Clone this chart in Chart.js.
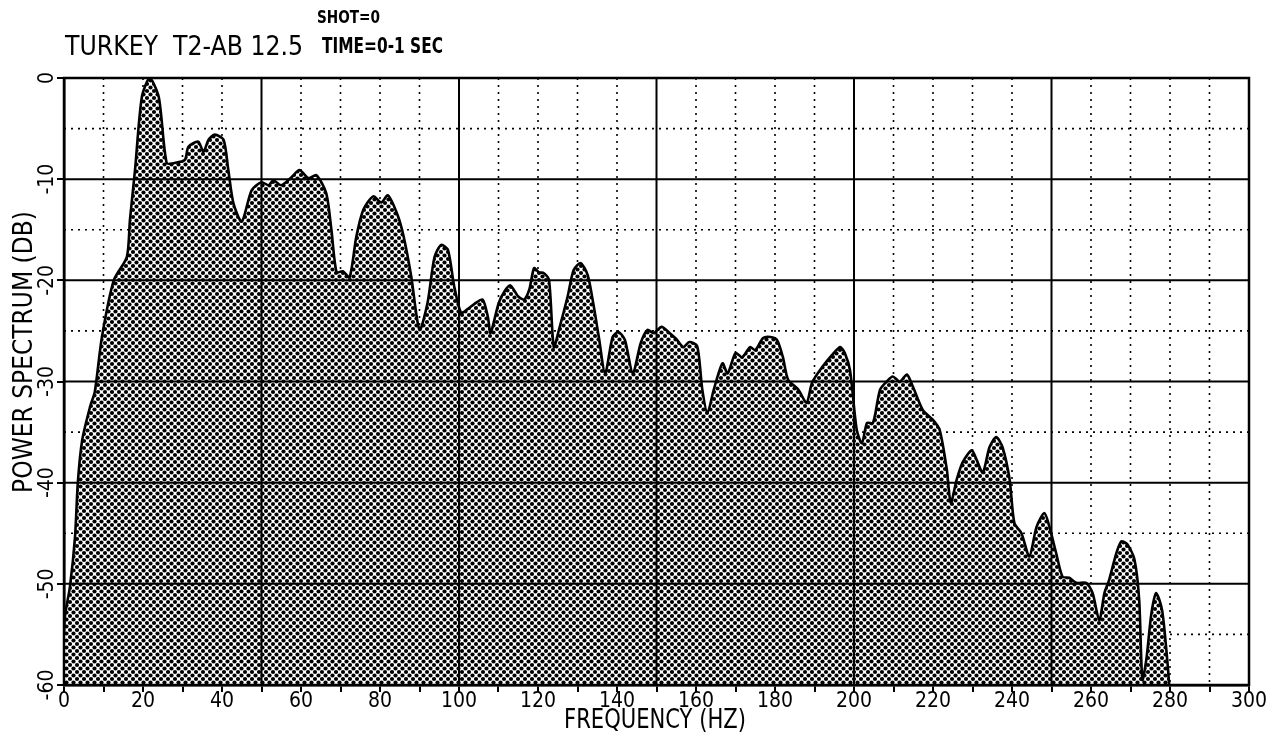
<!DOCTYPE html>
<html>
<head>
<meta charset="utf-8">
<script src="https://cdn.jsdelivr.net/npm/chart.js@4.4.1/dist/chart.umd.min.js"></script>
<style>
  html, body { margin: 0; padding: 0; background: #fff; }
  #wrap { width: 1277px; height: 747px; position: relative; }
</style>
</head>
<body>
<div id="wrap"><canvas id="spectrum"></canvas></div>
<script>
// values
const freqHz = [
  0, 0.3, 1.5, 2.8, 3.5, 4.6, 6.6, 7.8, 9.6, 12.6, 15.9, 16.7, 18, 19.7, 21.7, 24, 26, 28,
  30.6, 31.5, 34, 35.3, 36.6, 38.2, 40.4, 41.6, 42.9, 45, 47.5, 50, 51.8, 53, 55, 57.6,
  59.6, 61.9, 63.9, 66.4, 67.7, 69, 70.6, 72.3, 74, 75.8, 78.3, 80.3, 82, 84.5, 86, 87.9,
  90, 92, 93.8, 95.5, 97.2, 98.8, 100.5, 102, 104, 106, 107.3, 108, 110, 111.5, 113, 115,
  116.5, 117.8, 119, 120.2, 121.5, 122.8, 124, 125.3, 127.5, 129, 130.8, 132.6, 134, 135.4,
  137, 138.9, 140.4, 142, 144, 146, 147.7, 149.3, 151.3, 153.3, 155, 156.8, 158.3, 160.3,
  161.6, 162.9, 164.5, 166.7, 168, 170, 171.7, 173.7, 175, 177, 178.8, 180.5, 182, 183.3,
  185.9, 188, 189.4, 191.9, 194.4, 196.5, 197.7, 199, 200.7, 202, 203.3, 204.8, 206.6,
  208.3, 209.8, 211.6, 213.4, 214.9, 217.4, 220, 221.7, 223.5, 224.5, 226, 227.5, 229.8,
  231, 232.6, 234.3, 236, 237.6, 239.4, 240.6, 242.4, 244.4, 246.2, 248.2, 249.5, 251.2,
  252.8, 254.5, 256.3, 258.8, 260.4, 262.1, 263.4, 264.6, 266.4, 267.7, 269.2, 271, 272.2,
  273, 274, 275.3, 276.5, 278, 279.3, 279.8
];
const powerDb = [
  -55, -53, -50.3, -45.3, -40, -35.8, -32.5, -31, -25.6, -20, -17.7, -14, -9, -1.9, 0, -1.9, -8.4, -8.4,
  -8.1, -6.8, -6.3, -7.3, -6.1, -5.6, -6.1, -9.1, -12.4, -14.2, -11.1, -10.3, -10.6, -10.1, -10.6, -9.8,
  -9.1, -9.9, -9.6, -11.4, -15, -19.2, -19.1, -19.7, -15.7, -13, -11.7, -12.3, -11.6, -13.6, -15.7, -19.6,
  -24.9, -22.3, -17.7, -16.5, -17, -20.6, -23.2, -22.9, -22.3, -21.9, -23.6, -25.2, -22.3, -21.1, -20.5, -21.6,
  -21.9, -20.9, -18.8, -19.2, -19.3, -20, -26.6, -24.9, -21.6, -19, -18.3, -19.5, -22.3, -25.6,
  -29.2, -25.6, -25.1, -25.9, -29.2, -26.2, -24.9, -25.2, -24.6, -25.2, -25.8, -26.6, -26.1, -26.5,
  -30.8, -33.1, -30.8, -28.2, -29.2, -27.2, -27.6, -26.6, -26.9, -25.7, -25.6, -25.9, -27.6, -29.8,
  -30.8, -32.1, -30.1, -28.6, -27.4, -26.6, -27.2, -28.9, -34.8, -36.1, -34.1, -34.1, -30.8,
  -30, -29.5, -30, -29.3, -30.5, -32.8, -33.8, -34.8, -38.7, -42, -39.7, -38, -36.8,
  -37.7, -39, -36.5, -35.5, -36.5, -39.7, -44, -45, -47.3, -44.4, -43, -44.4, -47,
  -49.3, -49.4, -49.9, -49.9, -50.9, -53.6, -50.9, -49.6, -47, -45.8, -46.1, -47.6, -51.6,
  -59.5, -57.5, -52.9, -50.9, -52.6, -57.5, -60
];

const xLabelValues = [0, 20, 40, 60, 80, 100, 120, 140, 160, 180, 200, 220, 240, 260, 280, 300];
const majorFreq = [50, 100, 150, 200, 250];
const minorFreq = [10, 20, 30, 40, 60, 70, 80, 90, 110, 120, 130, 140, 160, 170, 180, 190,
  210, 220, 230, 240, 260, 270, 280, 290];
const majorDb = [-10, -20, -30, -40, -50];
const minorDb = [-5, -15, -25, -35, -45, -55];

const PLOT_FONT = '"DejaVu Sans Condensed", "Liberation Sans Narrow", "DejaVu Sans", sans-serif';

// halftone fill like the plotter's dot screen
function dotPattern(ctx) {
  const n = 7;
  const c = document.createElement('canvas');
  c.width = n;
  c.height = n;
  const g = c.getContext('2d');
  g.fillStyle = '#fff';
  g.fillRect(0, 0, n, n);
  g.fillStyle = '#000';
  [[0, 0], [n, 0], [0, n], [n, n], [n / 2, n / 2]].forEach(([x, y]) => {
    g.beginPath();
    g.arc(x, y, 2.1, 0, Math.PI * 2);
    g.fill();
  });
  return ctx.createPattern(c, 'repeat');
}

const strokeLine = (ctx, x1, y1, x2, y2) => {
  ctx.beginPath();
  ctx.moveTo(x1, y1);
  ctx.lineTo(x2, y2);
  ctx.stroke();
};

const plotterGrid = {
  id: 'plotterGrid',
  beforeDatasetsDraw(chart) {
    const { ctx, chartArea: a, scales: { x, y } } = chart;
    ctx.save();
    ctx.strokeStyle = '#000';
    ctx.lineWidth = 1.6;
    ctx.setLineDash([2, 5]);
    minorFreq.forEach((f) => {
      const px = x.getPixelForValue(f);
      strokeLine(ctx, px, a.top, px, a.bottom);
    });
    minorDb.forEach((d) => {
      const py = y.getPixelForValue(d);
      strokeLine(ctx, a.left, py, a.right, py);
    });
    ctx.restore();
  },
  afterDatasetsDraw(chart) {
    const { ctx, chartArea: a, scales: { x, y } } = chart;
    ctx.save();
    ctx.strokeStyle = '#000';
    ctx.lineWidth = 2;
    majorFreq.forEach((f) => {
      const px = x.getPixelForValue(f);
      strokeLine(ctx, px, a.top, px, a.bottom);
    });
    majorDb.forEach((d) => {
      const py = y.getPixelForValue(d);
      strokeLine(ctx, a.left, py, a.right, py);
    });
    ctx.lineWidth = 2.5;
    ctx.strokeRect(a.left, a.top, a.right - a.left, a.bottom - a.top);
    ctx.restore();
  },
  afterDraw(chart) {
    const { ctx } = chart;
    ctx.save();
    ctx.fillStyle = '#000';
    ctx.textBaseline = 'alphabetic';
    ctx.textAlign = 'left';
    ctx.font = `27px ${PLOT_FONT}`;
    ctx.fillText('TURKEY  T2-AB 12.5', 65, 55, 238);
    ctx.font = `bold 22px ${PLOT_FONT}`;
    ctx.fillText('TIME=0-1 SEC', 322, 53, 121);
    ctx.font = `bold 18px ${PLOT_FONT}`;
    ctx.fillText('SHOT=0', 317, 23, 63);
    ctx.font = `26px ${PLOT_FONT}`;
    ctx.textAlign = 'center';
    ctx.fillText('FREQUENCY (HZ)', 655, 728, 182);
    ctx.translate(32, 352);
    ctx.rotate(-Math.PI / 2);
    ctx.fillText('POWER SPECTRUM (DB)', 0, 0, 335);
    ctx.restore();
  },
};

const canvas = document.getElementById('spectrum');
const ctx = canvas.getContext('2d');

new Chart(ctx, {
  type: 'line',
  data: {
    datasets: [
      {
        data: freqHz.map((f, i) => ({ x: f, y: powerDb[i] })),
        borderColor: '#000',
        borderWidth: 2.6,
        backgroundColor: dotPattern(ctx),
        fill: 'start',
        pointRadius: 0,
        tension: 0.25,
      },
    ],
  },
  options: {
    responsive: true,
    maintainAspectRatio: false,
    animation: false,
    layout: { padding: { top: 78, right: 28, left: 0, bottom: 0 } },
    plugins: { legend: { display: false }, tooltip: { enabled: false } },
    scales: {
      x: {
        type: 'linear',
        min: 0,
        max: 300,
        afterFit: (scale) => { scale.height = 62; },
        grid: { drawOnChartArea: false, drawTicks: true, tickLength: 7, color: '#000', lineWidth: 2 },
        border: { display: true, color: '#000', width: 2.5 },
        ticks: {
          stepSize: 10,
          autoSkip: false,
          maxRotation: 0,
          padding: -3,
          color: '#000',
          font: { family: PLOT_FONT, size: 21 },
          callback: (v) => (xLabelValues.includes(v) ? String(v) : ''),
        },
      },
      y: {
        min: -60,
        max: 0,
        afterFit: (scale) => { scale.width = 64; },
        grid: { drawOnChartArea: false, drawTicks: true, tickLength: 7, color: '#000', lineWidth: 2 },
        border: { display: true, color: '#000', width: 2.5 },
        ticks: {
          stepSize: 10,
          minRotation: 90,
          maxRotation: 90,
          crossAlign: 'center',
          padding: -6,
          color: '#000',
          font: { family: PLOT_FONT, size: 21 },
        },
      },
    },
  },
  plugins: [plotterGrid],
});
</script>
</body>
</html>
